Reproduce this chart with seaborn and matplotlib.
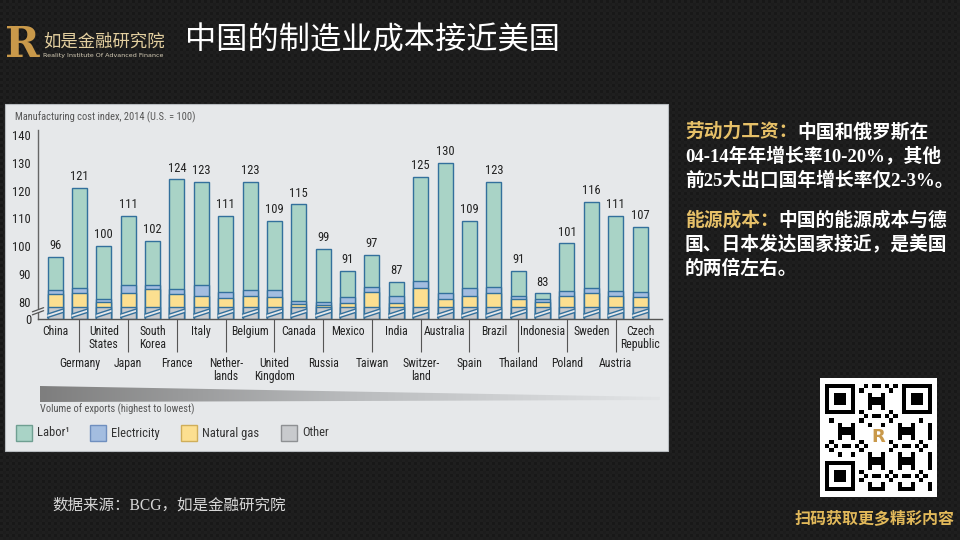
import numpy as np
import pandas as pd
import matplotlib
matplotlib.use("Agg")
import matplotlib.pyplot as plt
import seaborn as sns
from matplotlib import transforms
from matplotlib import font_manager as fm
from matplotlib.patches import Polygon, Rectangle
from matplotlib.colors import LinearSegmentedColormap

# ---------------- data ----------------
countries = ["China", "Germany", "United States", "Japan", "South Korea", "France",
             "Italy", "Netherlands", "Belgium", "United Kingdom", "Canada", "Russia",
             "Mexico", "Taiwan", "India", "Switzerland", "Australia", "Spain", "Brazil",
             "Thailand", "Indonesia", "Poland", "Sweden", "Austria", "Czech Republic"]
country_labels = ["China", "Germany", "United\nStates", "Japan", "South\nKorea", "France",
                  "Italy", "Nether-\nlands", "Belgium", "United\nKingdom", "Canada", "Russia",
                  "Mexico", "Taiwan", "India", "Switzer-\nland", "Australia", "Spain", "Brazil",
                  "Thailand", "Indonesia", "Poland", "Sweden", "Austria", "Czech\nRepublic"]
labor = [11.7, 36.0, 19.1, 25.0, 16.1, 39.5, 37.0, 27.6, 38.8, 24.8, 34.6, 19.2,
         9.4, 11.8, 5.1, 37.7, 46.7, 24.1, 37.6, 8.8, 2.0, 17.0, 31.2, 27.0, 23.4]
electricity = [1.5, 1.8, 1.1, 3.0, 1.4, 1.8, 3.8, 1.9, 2.0, 2.4, 1.2, 1.0,
               1.9, 1.6, 2.2, 2.2, 2.4, 2.7, 2.4, 1.3, 1.2, 1.9, 1.8, 1.9, 2.0]
natural_gas = [4.8, 5.2, 1.8, 5.0, 6.5, 4.7, 4.2, 3.5, 4.2, 3.8, 1.2, 0.8,
               1.7, 5.6, 1.7, 7.1, 2.9, 4.2, 5.0, 2.9, 1.8, 4.1, 5.0, 4.1, 3.6]
other = [78, 78, 78, 78, 78, 78, 78, 78, 78, 78, 78, 78,
         78, 78, 78, 78, 78, 78, 78, 78, 78, 78, 78, 78, 78]
y_ticks = [0, 80, 90, 100, 110, 120, 130, 140]
legend_labels = ["Labor\u00b9", "Electricity", "Natural gas", "Other"]

c_labor, c_elec, c_gas, c_other = "#a9d3c6", "#a3bde0", "#fcdf90", "#c8cacd"
edge = "#33709c"
panel = "#e6e8ea"

# ---------------- fonts ----------------
sns.set_theme(style="white")
names = {f.name for f in fm.fontManager.ttflist}
cond = next((n for n in ["Liberation Sans Narrow", "Roboto Condensed", "Open Sans Condensed"]
             if n in names), "DejaVu Sans")
plt.rcParams["font.family"] = [cond, "DejaVu Sans"]
CJK = ["Noto Sans CJK SC", "DejaVu Sans"]
SERIF_CJK = ["Liberation Serif", "Noto Sans CJK SC", "DejaVu Sans"]

fig = plt.figure(figsize=(9.6, 5.4), dpi=100)
fig.patch.set_facecolor("#1c1c1c")

# ---------------- background / decorations ----------------
bg = fig.add_axes([0, 0, 1, 1])
bg.set_xlim(0, 960)
bg.set_ylim(540, 0)
bg.axis("off")
bg.set_zorder(0)
yy, xx = np.mgrid[0:540, 0:960]
tex = 24 + 7 * (((xx // 3) + (yy // 3)) % 2) + 4 * (((xx // 3) % 2) * ((yy // 3) % 2))
bg.imshow(tex, cmap="gray", vmin=0, vmax=255, extent=(0, 960, 540, 0), aspect="auto",
          interpolation="nearest", zorder=0)

bg.add_patch(Rectangle((5, 104), 663, 347, fc=panel, ec="#b8bcc0", lw=0.8, zorder=1))
bg.text(15, 117, "Manufacturing cost index, 2014 (U.S. = 100)", fontsize=7.5,
        color="#555555", va="center", ha="left", zorder=3)

# volume wedge
grad = np.linspace(0, 1, 256).reshape(1, -1)
wcmap = LinearSegmentedColormap.from_list("w", ["#7e7e7e", "#b9bbbd", "#e2e4e6"])
im = bg.imshow(grad, cmap=wcmap, extent=(40, 660, 402, 386), aspect="auto", zorder=2)
wedge = Polygon([(40, 386), (660, 397), (660, 400), (40, 402)], closed=True,
                transform=bg.transData, fc="none", ec="none")
bg.add_patch(wedge)
im.set_clip_path(wedge)
bg.text(40, 409, "Volume of exports (highest to lowest)", fontsize=7.5, color="#555555",
        va="center", ha="left", zorder=3)

# legend
leg_cols = [(c_labor, "#6f9f92"), (c_elec, "#6f8fbf"), (c_gas, "#cfae5a"), (c_other, "#8e9093")]
leg_x = [16, 90, 181, 281]
for (fc, ec), lx, lab in zip(leg_cols, leg_x, legend_labels):
    bg.add_patch(Rectangle((lx, 425), 16, 16, fc=fc, ec=ec, lw=1.0, zorder=3))
    bg.text(lx + 21, 433, lab, fontsize=9, color="#333333", va="center", ha="left", zorder=3)

# title and logo
bg.text(22, 45, "R", fontsize=30, fontweight="bold", family="DejaVu Serif",
        color="#c9994a", ha="center", va="center", zorder=3)
bg.text(43, 42, "如是金融研究院", fontsize=12.5, family=CJK, color="#e3cf9f",
        ha="left", va="center", zorder=3)
bg.text(43, 56, "Reality Institute Of Advanced Finance", fontsize=4.6, family="DejaVu Sans",
        color="#d8cfb8", ha="left", va="center", zorder=3)
bg.text(185, 40, "中国的制造业成本接近美国", fontsize=22.5, family=CJK, color="white",
        ha="left", va="center", zorder=3)

# right-side text
gold = "#e6c068"
em = 13.5 * 100 / 72
rx = 685
kw = dict(fontsize=13.5, family=SERIF_CJK, fontweight="bold", ha="left", va="center", zorder=3)
bg.text(rx, 132, "劳动力工资：", color=gold, **kw)
bg.text(rx + 6 * em, 132, "中国和俄罗斯在", color="white", **kw)
bg.text(rx, 157, "04-14年年增长率10-20%，其他", color="white", **kw)
bg.text(rx, 181, "前25大出口国年增长率仅2-3%。", color="white", **kw)
bg.text(rx, 220, "能源成本：", color=gold, **kw)
bg.text(rx + 5 * em, 220, "中国的能源成本与德", color="white", **kw)
bg.text(rx, 245, "国、日本发达国家接近，是美国", color="white", **kw)
bg.text(rx, 269, "的两倍左右。", color="white", **kw)

# source
bg.text(52, 506, "数据来源：BCG，如是金融研究院", fontsize=11.2, family=SERIF_CJK,
        color="#d6d6d6", ha="left", va="center", zorder=3)

# QR-like block
bg.add_patch(Rectangle((820, 378), 117, 119, fc="white", ec="none", zorder=2))
n = 25
qi, qj = np.mgrid[0:n, 0:n]
qr = (((qi * qi * 3 + qj * 5 + qi * qj * 7 + qj * qj) % 7) < 3).astype(float)
for (r0, c0) in [(0, 0), (0, n - 7), (n - 7, 0)]:
    rr0, rr1 = max(r0 - 1, 0), min(r0 + 8, n)
    cc0, cc1 = max(c0 - 1, 0), min(c0 + 8, n)
    qr[rr0:rr1, cc0:cc1] = 0
    blk = np.zeros((7, 7))
    blk[0, :] = blk[-1, :] = blk[:, 0] = blk[:, -1] = 1
    blk[2:5, 2:5] = 1
    qr[r0:r0 + 7, c0:c0 + 7] = blk
qr[10:15, 10:15] = 0
bg.imshow(1 - qr, cmap="gray", vmin=0, vmax=1, extent=(825, 932, 491, 384),
          interpolation="nearest", aspect="auto", zorder=3)
bg.text(878.5, 437.5, "R", fontsize=13, fontweight="bold", family="DejaVu Sans",
        color="#c9994a", ha="center", va="center", zorder=4)
bg.text(955, 519, "扫码获取更多精彩内容", fontsize=11.5, family=CJK, fontweight="bold",
        color="#e2b95a", ha="right", va="center", zorder=3)

# ---------------- chart ----------------
ax = fig.add_axes([38 / 960, (540 - 319) / 540, 624 / 960, 189 / 540])
ax.set_facecolor("none")
ax.set_zorder(2)

df = pd.DataFrame({"country": countries, "labor": labor, "electricity": electricity,
                   "gas": natural_gas, "other": other})
df["cum_other"] = df["other"]
df["cum_gas"] = df["cum_other"] + df["gas"]
df["cum_elec"] = df["cum_gas"] + df["electricity"]
df["total"] = df["cum_elec"] + df["labor"]

for col, color in [("total", c_labor), ("cum_elec", c_elec), ("cum_gas", c_gas),
                   ("cum_other", c_other)]:
    sns.barplot(data=df, x="country", y=col, order=countries, color=color, saturation=1,
                width=0.62, edgecolor=edge, linewidth=1.0, errorbar=None, ax=ax)

B, D = 77.0, 3.2
k = D / B


def fwd(v):
    v = np.asarray(v, dtype=float)
    return np.where(v <= B, v * k, D + (v - B))


def inv(d):
    d = np.asarray(d, dtype=float)
    return np.where(d <= D, d / k, d - D + B)


ax.set_yscale("function", functions=(fwd, inv))
ax.set_ylim(0, float(inv(68.0)))
ax.set_xlim(-0.7, len(countries) - 1 + 0.9)
ax.set_yticks(y_ticks)
ax.set_yticklabels([str(t) for t in y_ticks])
ax.yaxis.set_minor_locator(matplotlib.ticker.NullLocator())
ax.tick_params(axis="y", length=0, pad=5, labelsize=9, labelcolor="#222222")
ax.set_xticks([])
ax.set_xlabel("")
ax.set_ylabel("")
for s in ["top", "right"]:
    ax.spines[s].set_visible(False)
ax.spines["left"].set_color("#666666")
ax.spines["left"].set_linewidth(1.0)
ax.spines["bottom"].set_color("#555555")
ax.spines["bottom"].set_linewidth(1.0)

# value labels
for i, t in enumerate(df["total"]):
    ax.annotate(f"{t:.0f}", (i, t), xytext=(0, 3.5), textcoords="offset points",
                ha="center", va="bottom", fontsize=9, color="#222222")

# category labels and separators
trans = transforms.blended_transform_factory(ax.transData, ax.transAxes)
for i, lab in enumerate(country_labels):
    yv = -0.03 if i % 2 == 0 else -0.2
    ax.text(i, yv, lab, transform=trans, ha="center", va="top", fontsize=8.5,
            color="#222222", linespacing=1.0, clip_on=False)
odd = [i for i in range(len(countries)) if i % 2 == 1]
ax.vlines(odd, -0.175, 0, transform=trans, color="#555555", lw=0.8, clip_on=False)

# axis-break marks on each bar
first_layer = ax.patches[:len(countries)]
for p in first_layer:
    x0 = p.get_x()
    x1 = x0 + p.get_width()
    ax.add_patch(Polygon([(x0, 0.008), (x1, 0.034), (x1, 0.052), (x0, 0.026)],
                         closed=True, transform=trans, fc=panel, ec="none", zorder=5))
    ax.plot([x0, x1], [0.008, 0.034], transform=trans, color=edge, lw=1.0, zorder=6)
    ax.plot([x0, x1], [0.026, 0.052], transform=trans, color=edge, lw=1.0, zorder=6)

# break mark on y axis
ax.add_patch(Polygon([(-0.009, 0.022), (0.009, 0.044), (0.009, 0.06), (-0.009, 0.038)],
                     closed=True, transform=ax.transAxes, fc=panel, ec="none",
                     zorder=5, clip_on=False))
ax.plot([-0.009, 0.009], [0.022, 0.044], transform=ax.transAxes, color="#555555",
        lw=0.9, zorder=6, clip_on=False)
ax.plot([-0.009, 0.009], [0.038, 0.06], transform=ax.transAxes, color="#555555",
        lw=0.9, zorder=6, clip_on=False)

fig.savefig("out.png", dpi=100, facecolor=fig.get_facecolor())
